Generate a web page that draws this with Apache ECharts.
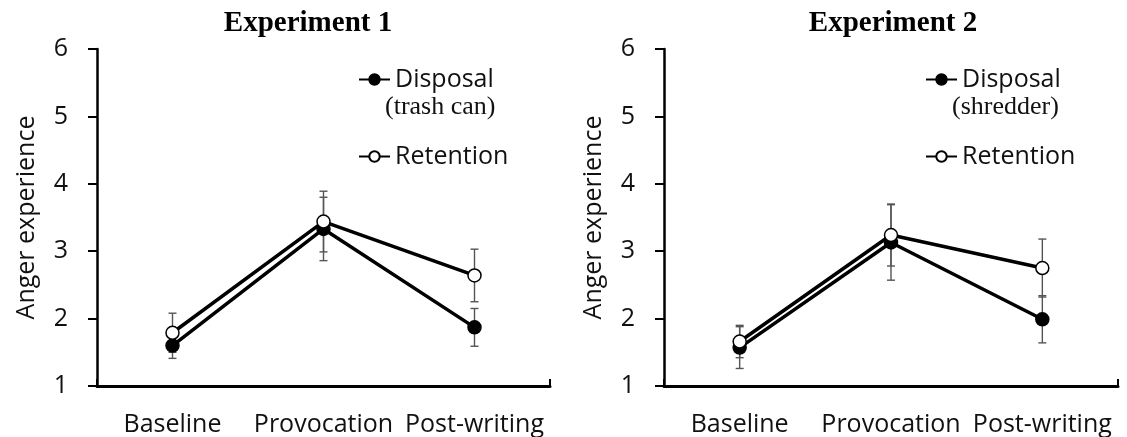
<!DOCTYPE html>
<html>
<head>
<meta charset="utf-8">
<script src="https://cdn.jsdelivr.net/npm/echarts@6/dist/echarts.min.js"></script>
<style>
  html, body { margin: 0; padding: 0; background: #fff; }
  #chart { width: 1127px; height: 437px; }
</style>
</head>
<body>
<div id="chart"></div>
<script>
var categories = ['Baseline', 'Provocation', 'Post-writing'];
var yTicks = [1, 2, 3, 4, 5, 6];

// Experiment 1 (trash can)
var exp1Disposal = [1.60, 3.33, 1.87];
var exp1DisposalErr = [0.19, 0.47, 0.28];
var exp1Retention = [1.79, 3.44, 2.64];
var exp1RetentionErr = [0.29, 0.45, 0.39];

// Experiment 2 (shredder)
var exp2Disposal = [1.57, 3.13, 1.99];
var exp2DisposalErr = [0.31, 0.56, 0.35];
var exp2Retention = [1.66, 3.24, 2.75];
var exp2RetentionErr = [0.24, 0.46, 0.43];

var sans = '"Open Sans"';
var serif = '"Liberation Serif"';

var myChart = echarts.init(document.getElementById('chart'));

function errData(vals, errs) {
    return vals.map(function (v, i) { return [i, v - errs[i], v + errs[i]]; });
}

function errSeries(name, g, vals, errs) {
    return {
        type: 'custom',
        name: name,
        xAxisIndex: g * 2,
        yAxisIndex: g,
        z: 1,
        silent: true,
        encode: { x: 0, y: [1, 2] },
        data: errData(vals, errs),
        renderItem: function (params, api) {
            var lo = api.coord([api.value(0), api.value(1)]);
            var hi = api.coord([api.value(0), api.value(2)]);
            var w = 4;
            var st = { stroke: '#555', lineWidth: 1.4 };
            return {
                type: 'group',
                children: [
                    { type: 'line', shape: { x1: lo[0], y1: lo[1], x2: hi[0], y2: hi[1] }, style: st },
                    { type: 'line', shape: { x1: lo[0] - w, y1: lo[1], x2: lo[0] + w, y2: lo[1] }, style: st },
                    { type: 'line', shape: { x1: hi[0] - w, y1: hi[1], x2: hi[0] + w, y2: hi[1] }, style: st }
                ]
            };
        }
    };
}

function lineSeries(name, g, vals, filled) {
    return {
        type: 'line',
        name: name,
        xAxisIndex: g * 2,
        yAxisIndex: g,
        z: 3,
        data: vals,
        symbol: 'circle',
        symbolSize: 13,
        lineStyle: { color: '#000', width: 3.5 },
        itemStyle: { color: filled ? '#000' : '#fff', borderColor: '#000', borderWidth: 1.5 },
        emphasis: { disabled: true }
    };
}

function catAxis(g) {
    return {
        type: 'category',
        gridIndex: g,
        data: categories,
        axisLine: { lineStyle: { color: '#000', width: 3 } },
        axisTick: { alignWithLabel: true, inside: true, length: 7, lineStyle: { color: '#000', width: 2 } },
        axisLabel: { color: '#111', fontFamily: sans, fontSize: 25, margin: 26, interval: 0 }
    };
}

// only used for the small tick at the right end of the x axis
function endTickAxis(g) {
    return {
        type: 'value',
        gridIndex: g,
        position: 'bottom',
        min: 0, max: 1, interval: 1,
        axisLine: { show: false },
        axisLabel: { show: false },
        splitLine: { show: false },
        axisTick: { inside: true, length: 7, lineStyle: { color: '#000', width: 2 } }
    };
}

function valAxis(g) {
    return {
        type: 'value',
        gridIndex: g,
        min: yTicks[0], max: yTicks[yTicks.length - 1], interval: 1,
        name: 'Anger experience',
        nameLocation: 'middle',
        nameGap: 58,
        nameTextStyle: { color: '#111', fontFamily: sans, fontSize: 25 },
        axisLine: { show: true, lineStyle: { color: '#000', width: 2.5 } },
        axisTick: { show: true, length: 9, lineStyle: { color: '#000', width: 2 } },
        axisLabel: { color: '#111', fontFamily: sans, fontSize: 25, margin: 29 },
        splitLine: { show: false }
    };
}

function legendAt(x) {
    return {
        data: ['Disposal', 'Retention'],
        orient: 'vertical',
        left: x,
        top: 67,
        padding: 0,
        itemGap: 52,
        itemWidth: 31,
        itemHeight: 13,
        selectedMode: false,
        textStyle: { color: '#111', fontFamily: sans, fontSize: 25 }
    };
}

var option = {
    backgroundColor: '#fff',
    animation: false,
    title: [
        { text: 'Experiment 1', left: 308, top: 9, padding: 0, textAlign: 'center',
          textStyle: { fontFamily: serif, fontWeight: 'bold', fontSize: 29, color: '#000' } },
        { text: 'Experiment 2', left: 893, top: 9, padding: 0, textAlign: 'center',
          textStyle: { fontFamily: serif, fontWeight: 'bold', fontSize: 29, color: '#000' } }
    ],
    legend: [legendAt(358), legendAt(925)],
    graphic: [
        { type: 'text', x: 385, y: 107, style: { text: '(trash can)', font: '26px "Liberation Serif"', fill: '#111', verticalAlign: 'middle' } },
        { type: 'text', x: 952, y: 107, style: { text: '(shredder)', font: '26px "Liberation Serif"', fill: '#111', verticalAlign: 'middle' } }
    ],
    grid: [
        { left: 97, top: 49, width: 453, height: 338 },
        { left: 664, top: 49, width: 454, height: 338 }
    ],
    xAxis: [catAxis(0), endTickAxis(0), catAxis(1), endTickAxis(1)],
    yAxis: [valAxis(0), valAxis(1)],
    series: [
        errSeries('Disposal error', 0, exp1Disposal, exp1DisposalErr),
        errSeries('Retention error', 0, exp1Retention, exp1RetentionErr),
        lineSeries('Disposal', 0, exp1Disposal, true),
        lineSeries('Retention', 0, exp1Retention, false),
        errSeries('Disposal error', 1, exp2Disposal, exp2DisposalErr),
        errSeries('Retention error', 1, exp2Retention, exp2RetentionErr),
        lineSeries('Disposal', 1, exp2Disposal, true),
        lineSeries('Retention', 1, exp2Retention, false)
    ]
};

myChart.setOption(option);
window.addEventListener('resize', function () {
    myChart.resize();
});
</script>
</body>
</html>
